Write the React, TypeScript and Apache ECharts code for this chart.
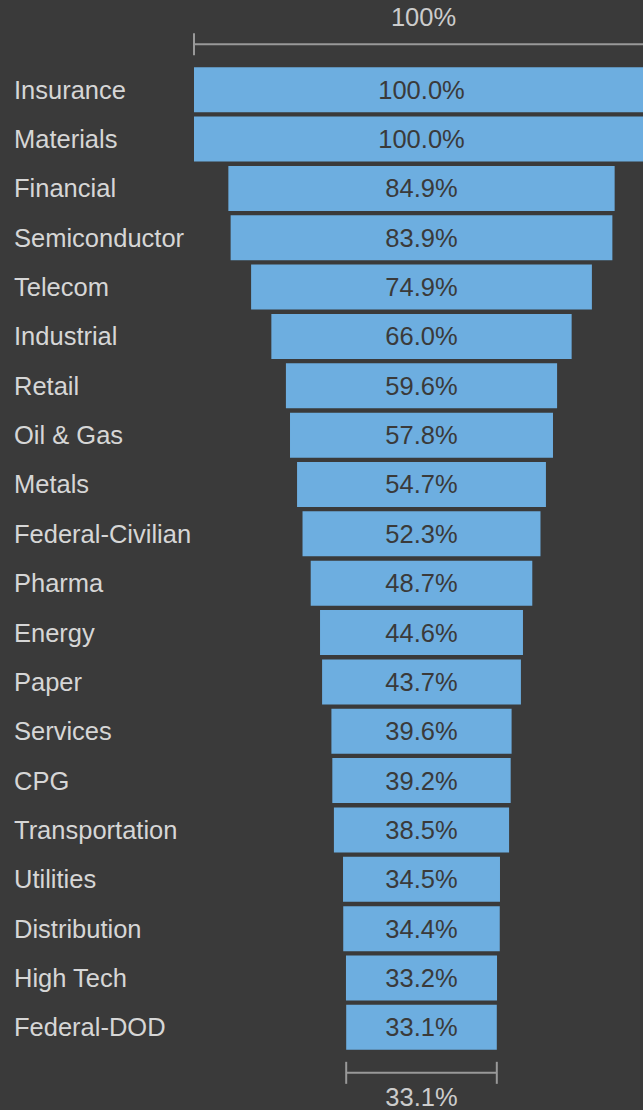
import React, { useEffect, useRef } from "react";
import * as echarts from "echarts";

const categories = [
  "Insurance", "Materials", "Financial", "Semiconductor", "Telecom", "Industrial",
  "Retail", "Oil & Gas", "Metals", "Federal-Civilian", "Pharma", "Energy", "Paper",
  "Services", "CPG", "Transportation", "Utilities", "Distribution", "High Tech", "Federal-DOD",
];
const values = [
  100.0, 100.0, 84.9, 83.9, 74.9, 66.0, 59.6, 57.8, 54.7, 52.3, 48.7, 44.6, 43.7,
  39.6, 39.2, 38.5, 34.5, 34.4, 33.2, 33.1,
];
const topLabel = "100%";

const BG = "#3a3a3a";
const BAR = "#6daee0";
const FONT = "'Liberation Sans', Arial, sans-serif";
const FS = 25.5;

export default function App() {
  const ref = useRef<HTMLDivElement>(null);
  useEffect(() => {
    if (!ref.current) return;
    const chart = echarts.init(ref.current, null, { renderer: "svg" });
    const offsets = values.map((v) => (100 - v) / 2);
    chart.setOption({
      animation: false,
      backgroundColor: BG,
      grid: { left: 194, right: 0, top: 65, bottom: 58, containLabel: false },
      xAxis: { type: "value", min: 0, max: 100, show: false },
      yAxis: {
        type: "category",
        data: categories,
        inverse: true,
        axisLine: { show: false },
        axisTick: { show: false },
        splitLine: { show: false },
        axisLabel: {
          align: "left",
          margin: 180,
          color: "#d6d6d6",
          fontSize: FS,
          fontFamily: FONT,
        },
      },
      series: [
        {
          type: "bar",
          stack: "f",
          data: offsets,
          itemStyle: { color: "transparent" },
          barWidth: 45,
          silent: true,
        },
        {
          type: "bar",
          stack: "f",
          data: values,
          barWidth: 45,
          itemStyle: { color: BAR },
          label: {
            show: true,
            position: "inside",
            color: "#3a3a3a",
            fontSize: FS,
            fontFamily: FONT,
            formatter: (p: any) => Number(p.value).toFixed(1) + "%",
          },
        },
      ],
    });

    const first = 0;
    const last = values.length - 1;
    const pFirstL = chart.convertToPixel({ gridIndex: 0 }, [offsets[first], first]);
    const pFirstR = chart.convertToPixel({ gridIndex: 0 }, [offsets[first] + values[first], first]);
    const pLastL = chart.convertToPixel({ gridIndex: 0 }, [offsets[last], last]);
    const pLastR = chart.convertToPixel({ gridIndex: 0 }, [offsets[last] + values[last], last]);
    const lineStyle = { stroke: "#999999", lineWidth: 2 };
    const topY = pFirstL[1] - 45.5;
    const botY = pLastL[1] + 45.5;
    chart.setOption({
      graphic: [
        { type: "line", shape: { x1: pFirstL[0], y1: topY, x2: pFirstR[0], y2: topY }, style: lineStyle },
        { type: "line", shape: { x1: pFirstL[0], y1: topY - 11, x2: pFirstL[0], y2: topY + 11 }, style: lineStyle },
        { type: "line", shape: { x1: pFirstR[0], y1: topY - 11, x2: pFirstR[0], y2: topY + 11 }, style: lineStyle },
        {
          type: "text",
          x: (pFirstL[0] + pFirstR[0]) / 2 + 2,
          y: topY - 27,
          style: { text: topLabel, fill: "#cccccc", font: `${FS}px ${FONT}`, align: "center", verticalAlign: "middle" },
        },
        { type: "line", shape: { x1: pLastL[0], y1: botY, x2: pLastR[0], y2: botY }, style: lineStyle },
        { type: "line", shape: { x1: pLastL[0], y1: botY - 11, x2: pLastL[0], y2: botY + 11 }, style: lineStyle },
        { type: "line", shape: { x1: pLastR[0], y1: botY - 11, x2: pLastR[0], y2: botY + 11 }, style: lineStyle },
        {
          type: "text",
          x: (pLastL[0] + pLastR[0]) / 2,
          y: botY + 24,
          style: {
            text: values[last].toFixed(1) + "%",
            fill: "#cccccc",
            font: `${FS}px ${FONT}`,
            align: "center",
            verticalAlign: "middle",
          },
        },
      ],
    });
    return () => chart.dispose();
  }, []);
  return (
    <div style={{ position: "absolute", left: 0, top: 0, width: 643, height: 1110, overflow: "hidden", background: BG }}>
      <div ref={ref} style={{ width: 649, height: 1110 }} />
    </div>
  );
}
